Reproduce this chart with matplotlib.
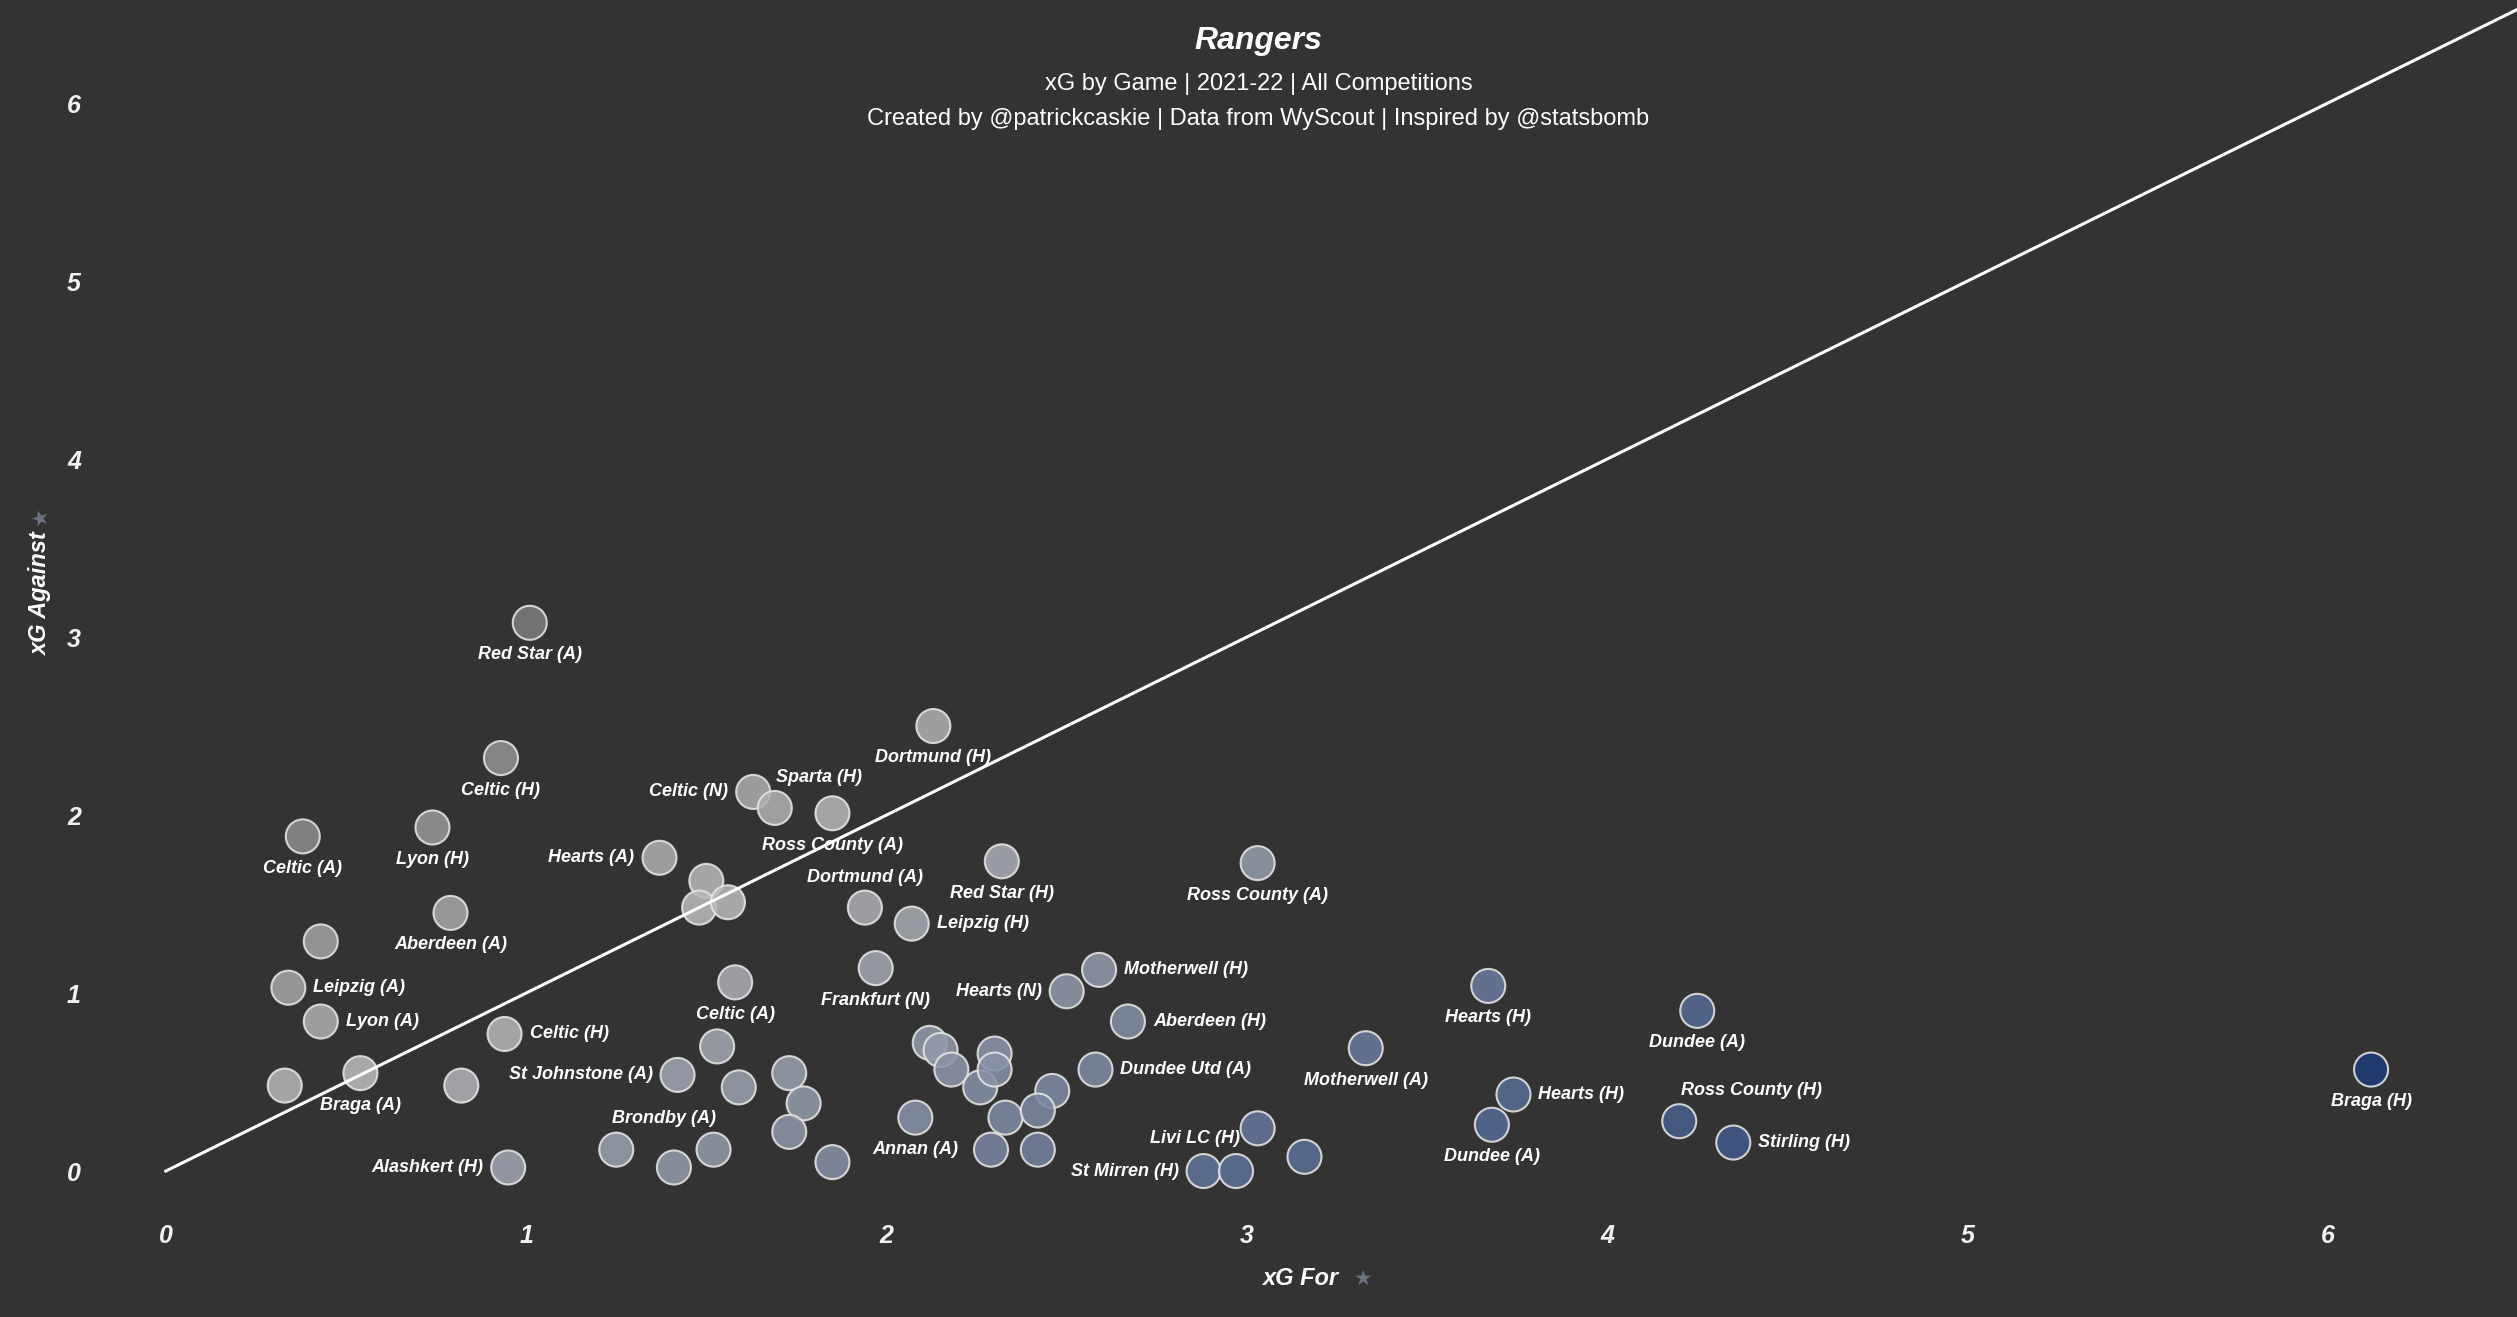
import numpy as np
import matplotlib
matplotlib.use("Agg")
import matplotlib.pyplot as plt
from matplotlib.colors import LinearSegmentedColormap, Normalize

# Rangers 2021-22, xG per game
opponents = [
    "Red Star (A)", "Celtic (H)", "Celtic (A)", "Lyon (H)", "Aberdeen (A)", "",
    "Leipzig (A)", "Lyon (A)", "", "Braga (A)", "", "Celtic (H)", "Alashkert (H)",
    "Hearts (A)", "", "", "", "Celtic (N)", "Sparta (H)", "Ross County (A)",
    "Dortmund (H)", "Red Star (H)", "Dortmund (A)", "Leipzig (H)", "Frankfurt (N)",
    "Celtic (A)", "Ross County (A)", "Hearts (N)", "Motherwell (H)", "Aberdeen (H)",
    "Dundee Utd (A)", "Motherwell (A)", "Hearts (H)", "Dundee (A)", "Hearts (H)",
    "Dundee (A)", "Ross County (H)", "Stirling (H)", "Braga (H)", "Livi LC (H)",
    "St Mirren (H)", "", "", "St Johnstone (A)", "", "", "", "", "", "",
    "Brondby (A)", "", "", "Annan (A)", "", "", "", "", "", "", "", "", "", "", "",
]
xg_for = [
    1.01, 0.93, 0.38, 0.74, 0.79, 0.43,
    0.34, 0.43, 0.33, 0.54, 0.82, 0.94, 0.95,
    1.37, 1.50, 1.48, 1.56, 1.63, 1.69, 1.85,
    2.13, 2.32, 1.94, 2.07, 1.97,
    1.58, 3.03, 2.50, 2.59, 2.67,
    2.58, 3.33, 3.67, 4.25, 3.74,
    3.68, 4.20, 4.35, 6.12, 3.03,
    2.88, 2.97, 3.16, 1.42, 1.53, 1.59, 1.73, 1.77, 1.73, 1.25,
    1.41, 1.52, 1.85, 2.08, 2.12, 2.15, 2.18, 2.26, 2.30, 2.30, 2.33, 2.29, 2.46, 2.42, 2.42,
]
xg_against = [
    3.08, 2.32, 1.88, 1.93, 1.45, 1.29,
    1.03, 0.84, 0.48, 0.55, 0.48, 0.77, 0.02,
    1.76, 1.63, 1.48, 1.51, 2.13, 2.04, 2.01,
    2.50, 1.74, 1.48, 1.39, 1.14,
    1.06, 1.73, 1.01, 1.13, 0.84,
    0.57, 0.69, 1.04, 0.90, 0.43,
    0.26, 0.28, 0.16, 0.57, 0.24,
    0.00, 0.00, 0.08, 0.54, 0.70, 0.47, 0.55, 0.38, 0.22, 0.12,
    0.02, 0.12, 0.05, 0.30, 0.72, 0.68, 0.57, 0.47, 0.66, 0.57, 0.30, 0.12, 0.45, 0.34, 0.12,
]
# where each label sits relative to its dot
label_side = [
    "below", "below", "below", "below", "below", "",
    "right", "right", "", "below", "", "right", "left",
    "left", "", "", "", "left", "upright", "below",
    "below", "below", "above", "right", "below",
    "below", "below", "left", "right", "right",
    "right", "below", "below", "below", "right",
    "below", "upright", "right", "below", "downleft",
    "left", "", "", "left", "", "", "", "", "", "",
    "brondby", "", "", "below", "", "", "", "", "", "", "", "", "", "", "",
]

x_ticks = [0, 1, 2, 3, 4, 5, 6]
y_ticks = [0, 1, 2, 3, 4, 5, 6]

side_style = {
    "below": ((0, -23), "center"),
    "above": ((0, 22), "center"),
    "right": ((18, 0), "left"),
    "left": ((-18, 0), "right"),
    "upright": ((1, 22), "left"),
    "downleft": ((-13, -7), "right"),
    "brondby": ((-7, 35), "center"),
}

BG = "#333333"
FONT = "Liberation Sans"

xgf = np.array(xg_for)
xga = np.array(xg_against)
diff = xgf - xga

cmap = LinearSegmentedColormap.from_list(
    "rangers",
    [(0.0, "#7b7b7b"), (0.27, "#b9b9b9"), (0.47, "#8e97a9"),
     (0.66, "#5d7196"), (0.85, "#3a5586"), (1.0, "#1d3b78")],
)
norm = Normalize(vmin=-2.1, vmax=5.6)

fig = plt.figure(figsize=(25.17, 13.17), dpi=100, facecolor=BG)
ax = fig.add_axes([0.0437, 0.0888, 0.9563, 0.9112])
ax.set_facecolor(BG)

ax.scatter(xgf, xga, s=600, c=diff, cmap=cmap, norm=norm, alpha=0.88,
           edgecolors="#e6e6e6", linewidths=1.5, zorder=2)

ax.plot([0, 7], [0, 7], color="white", lw=2.2, zorder=4)

for name, x, y, side in zip(opponents, xg_for, xg_against, label_side):
    if not name:
        continue
    off, ha = side_style[side]
    ax.annotate(name, (x, y), xytext=off, textcoords="offset points",
                ha=ha, va="center", color="white", fontsize=13,
                fontfamily=FONT, fontweight="bold", fontstyle="italic", zorder=3)

ax.set_xlim(-0.155, 6.525)
ax.set_ylim(-0.163, 6.579)
ax.set_xticks(x_ticks)
ax.set_yticks(y_ticks)
ax.tick_params(length=0, colors="#f2f2f2", labelsize=18, pad=17)
ax.tick_params(axis="y", pad=21)
for lab in ax.get_xticklabels() + ax.get_yticklabels():
    lab.set_fontfamily(FONT)
    lab.set_fontweight("bold")
    lab.set_fontstyle("italic")
for s in ax.spines.values():
    s.set_visible(False)

# titles
fig.text(0.5, 0.969, "Rangers", ha="center", va="center", color="white",
         fontsize=23, fontfamily=FONT, fontweight="bold", fontstyle="italic")
fig.text(0.5, 0.936, "xG by Game | 2021-22 | All Competitions", ha="center",
         va="center", color="white", fontsize=17, fontfamily=FONT)
fig.text(0.5, 0.910, "Created by @patrickcaskie | Data from WyScout | Inspired by @statsbomb",
         ha="center", va="center", color="white", fontsize=17, fontfamily=FONT)

# axis titles with the little pin mark
fig.text(0.5165, 0.029, "xG For", ha="center", va="center", color="white",
         fontsize=17, fontfamily=FONT, fontweight="bold", fontstyle="italic")
fig.text(0.5415, 0.029, "★", ha="center", va="center", color="#6b7280", fontsize=15)
fig.text(0.016, 0.549, "xG Against", ha="center", va="center", rotation=90,
         color="white", fontsize=17, fontfamily=FONT, fontweight="bold",
         fontstyle="italic")
fig.text(0.016, 0.608, "★", ha="center", va="center", color="#6b7280",
         fontsize=15, rotation=90)

fig.savefig("out.png", dpi=100, facecolor=BG)
